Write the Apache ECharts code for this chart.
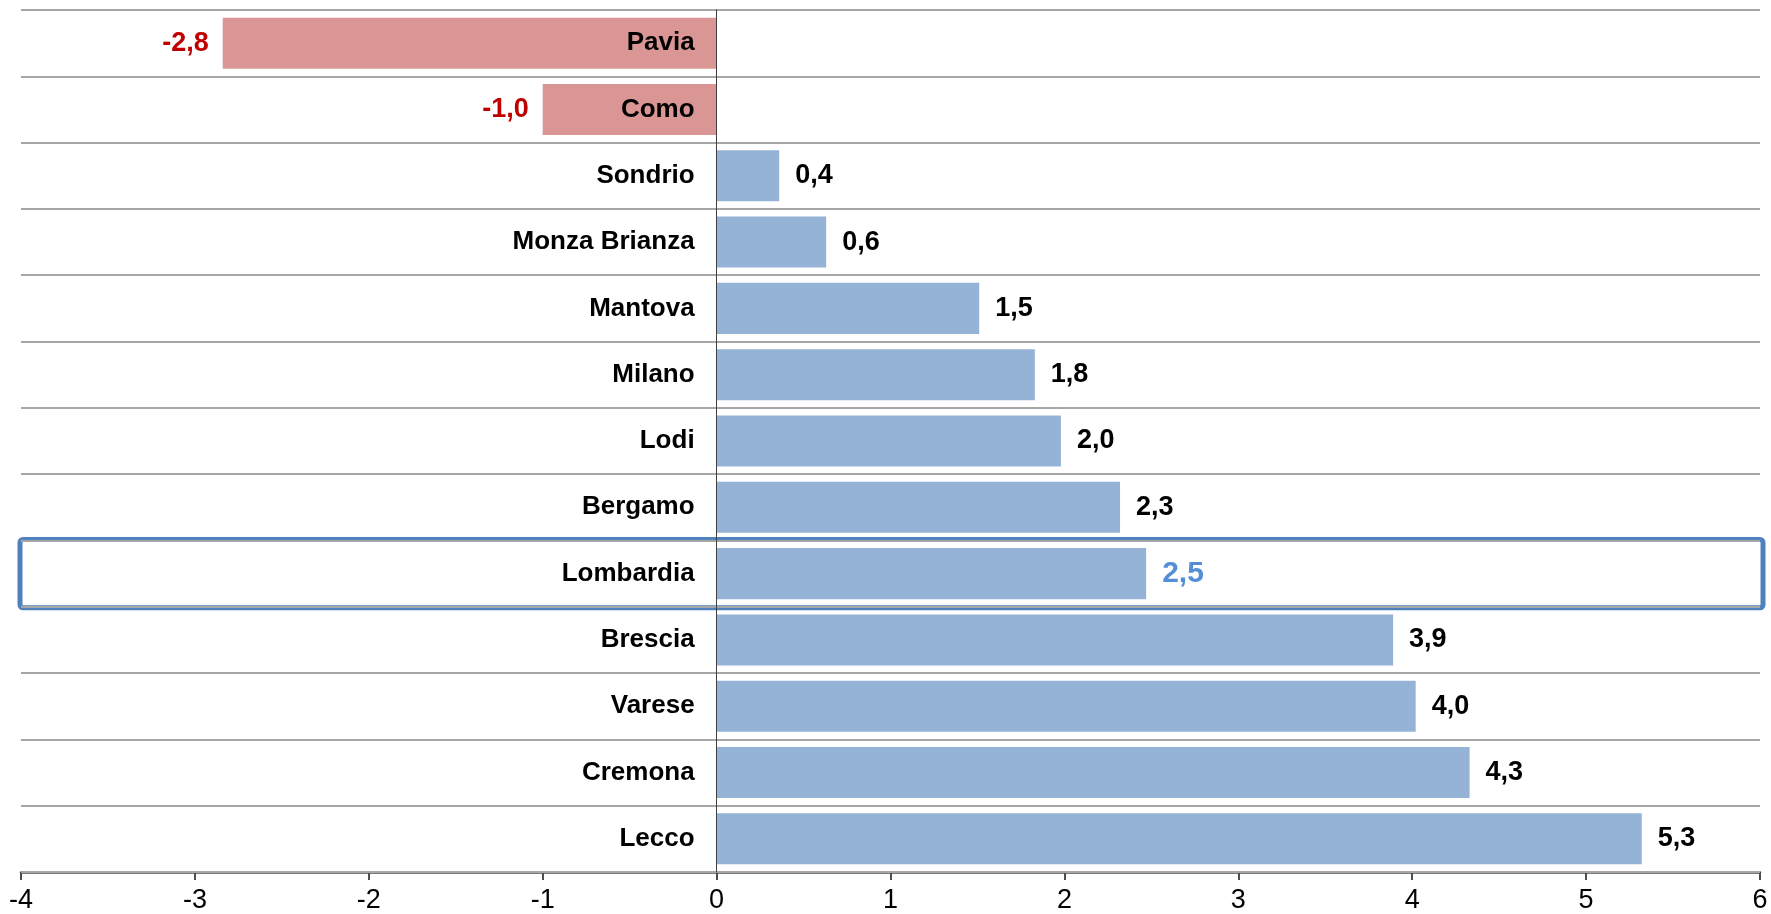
<!DOCTYPE html>
<html>
  <head>
    <meta charset="utf-8" />
    <style>
      html, body { margin: 0; padding: 0; background: #ffffff; }
    </style>
  </head>
  <body>
  <div id="main" style="width: 1771px;height:914px;"></div>

  <script type="text/javascript" src="https://cdn.jsdelivr.net/npm/echarts@6/dist/echarts.min.js"></script>
  <script type="text/javascript">
      // province (top to bottom) and value
      var province = ['Pavia', 'Como', 'Sondrio', 'Monza Brianza', 'Mantova', 'Milano', 'Lodi',
                      'Bergamo', 'Lombardia', 'Brescia', 'Varese', 'Cremona', 'Lecco'];
      var variation = [-2.84, -1.0, 0.36, 0.63, 1.51, 1.83, 1.98, 2.32, 2.47, 3.89, 4.02, 4.33, 5.32];
      var xTicks = [-4, -3, -2, -1, 0, 1, 2, 3, 4, 5, 6];
      var highlight = 'Lombardia';

      var myChart = echarts.init(document.getElementById('main'));

      var fmt = function (v) { return v.toFixed(1).replace('.', ','); };

      var barData = variation.map(function (v, i) {
        var neg = v < 0;
        var isTotal = province[i] === highlight;
        return {
          value: v,
          itemStyle: { color: neg ? '#d99694' : '#95b3d7' },
          label: {
            position: neg ? 'left' : 'right',
            distance: neg ? 14 : 16,
            color: neg ? '#c00000' : (isTotal ? '#558ed5' : '#000000'),
            fontSize: isTotal ? 30 : 27
          }
        };
      });

      var option = {
        animation: false,
        grid: { left: 21, right: 11, top: 10, bottom: 42, containLabel: false, outerBoundsMode: 'none' },
        xAxis: {
          type: 'value',
          min: xTicks[0],
          max: xTicks[xTicks.length - 1],
          interval: 1,
          axisLine: { show: true, lineStyle: { color: '#4d4d4d', width: 2.5 } },
          axisTick: { show: true, length: 8, lineStyle: { color: '#4d4d4d', width: 2 } },
          axisLabel: { fontFamily: 'Liberation Sans', fontSize: 27, color: '#000', margin: 15 },
          splitLine: { show: false }
        },
        yAxis: {
          type: 'category',
          data: province,
          inverse: true,
          z: 10,
          axisLine: { show: true, onZero: true, lineStyle: { color: '#404040', width: 1 } },
          axisTick: { show: false },
          axisLabel: { show: false },
          splitLine: { show: true, lineStyle: { color: '#a6a6a6', width: 2 } }
        },
        series: [
          {
            type: 'bar',
            data: barData,
            barCategoryGap: '23%',
            label: {
              show: true,
              fontFamily: 'Liberation Sans',
              fontWeight: 'bold',
              formatter: function (p) { return fmt(p.value); }
            }
          },
          {
            // category names, right aligned against the zero line
            type: 'custom',
            data: province.map(function (p) { return [0, p]; }),
            encode: { x: 0, y: 1 },
            z: 6,
            silent: true,
            renderItem: function (params, api) {
              var pt = api.coord([api.value(0), api.value(1)]);
              return {
                type: 'text',
                x: pt[0] - 22,
                y: pt[1],
                style: {
                  text: province[params.dataIndex],
                  fontFamily: 'Liberation Sans',
                  fontWeight: 'bold',
                  fontSize: 26,
                  fill: '#000',
                  align: 'right',
                  verticalAlign: 'middle'
                }
              };
            }
          },
          {
            // frame around the regional total row
            type: 'custom',
            data: [[xTicks[0], highlight, xTicks[xTicks.length - 1]]],
            encode: { x: [0, 2], y: 1 },
            z: 5,
            clip: false,
            silent: true,
            renderItem: function (params, api) {
              var a = api.coord([api.value(0), api.value(1)]);
              var b = api.coord([api.value(2), api.value(1)]);
              var h = api.size([0, 1])[1];
              return {
                type: 'rect',
                shape: { x: a[0] - 1, y: a[1] - h / 2 - 1, width: b[0] - a[0] + 4, height: h + 2, r: 3 },
                style: { fill: 'none', stroke: '#4f81bd', lineWidth: 5 }
              };
            }
          }
        ]
      };

      myChart.setOption(option);
  </script>
</body>
</html>
